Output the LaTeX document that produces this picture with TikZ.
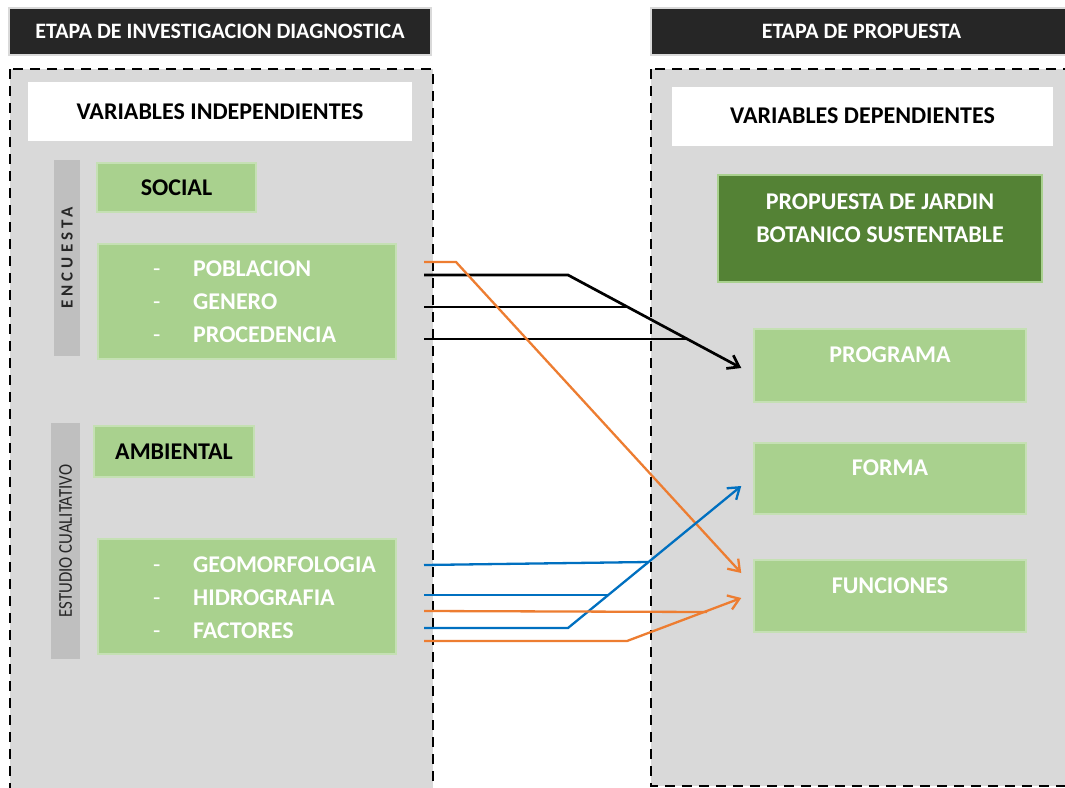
\documentclass[tikz,border=0pt]{standalone}
\usepackage{fontspec}
\setmainfont{Carlito}
\newfontfamily\narrowfont[FakeStretch=0.86]{Carlito}
\usetikzlibrary{arrows.meta,positioning}

\definecolor{hdrdark}{HTML}{262626}
\definecolor{panelgray}{HTML}{D9D9D9}
\definecolor{bargray}{HTML}{BFBFBF}
\definecolor{lightgreen}{HTML}{A9D18E}
\definecolor{greenrim}{HTML}{C5E0B4}
\definecolor{darkgreen}{HTML}{548235}
\definecolor{linkorange}{HTML}{ED7D31}
\definecolor{linkblue}{HTML}{0070C0}

\begin{document}
\begin{tikzpicture}[x=1pt, y=-1pt,
			every node/.style={inner sep=0pt, font=\bfseries\fontsize{24}{28}\selectfont},
			header/.style={draw=panelgray, line width=2pt, fill=hdrdark, text=white,
				minimum width=422pt, minimum height=47pt, font=\bfseries\fontsize{22}{26}\selectfont},
			panel/.style={draw=black, fill=panelgray, line width=2.4pt, dash pattern=on 10pt off 7pt},
			titlebox/.style={fill=white, minimum height=59pt},
			sidebar/.style={fill=bargray, rotate=90, text=hdrdark},
			greenbox/.style={draw=greenrim, line width=1.5pt, fill=lightgreen},
			boxtext/.style={text=white, font=\bfseries\fontsize{24}{33}\selectfont},
			link/.style={line width=2.3pt},
			linkarrow/.style={link, -{Straight Barb[angle=70:13pt]}}]
			
			\clip (0,0) rectangle (1065,787);
			\fill[white] (0,0) rectangle (1065,787);
			
			% Stage headers and dashed panels
			\node[header] (etapaDiag) at (220,31.5) {ETAPA DE INVESTIGACION DIAGNOSTICA};
			\node[header] (etapaProp) at (861.5,31.5) {ETAPA DE PROPUESTA};
			\draw[panel] (10,69) rectangle (433,800);
			\draw[panel] (651,69) rectangle (1080,786);
			
			% Define the nodes for the left panel
			\node[titlebox, minimum width=384pt] (varInd) at (220,111.5) {VARIABLES INDEPENDIENTES};
			\node[sidebar, minimum width=196pt, minimum height=26pt,
				font=\bfseries\fontsize{17}{19}\selectfont\addfontfeatures{LetterSpace=24}] (encuesta) at (67,258) {ENCUESTA};
			\node[greenbox, minimum width=159pt, minimum height=49pt] (social) at (176.5,187.5) {SOCIAL};
			\node[greenbox, minimum width=298pt, minimum height=115pt] (socialVars) at (247,301.5) {};
			\node[boxtext, align=left, anchor=west] (socialList) at (153,302)
				{\makebox[40pt][l]{\mdseries-}POBLACION\\\makebox[40pt][l]{\mdseries-}GENERO\\\makebox[40pt][l]{\mdseries-}PROCEDENCIA};
			
			\node[sidebar, minimum width=236pt, minimum height=29pt,
				font=\narrowfont\fontsize{19.5}{21}\selectfont] (estudio) at (65.5,541) {ESTUDIO CUALITATIVO};
			\node[greenbox, minimum width=160pt, minimum height=51pt] (ambiental) at (174,451.5) {AMBIENTAL};
			\node[greenbox, minimum width=298pt, minimum height=115pt] (ambVars) at (247,596.5) {};
			\node[boxtext, align=left, anchor=west] (ambList) at (153,598)
				{\makebox[40pt][l]{\mdseries-}GEOMORFOLOGIA\\\makebox[40pt][l]{\mdseries-}HIDROGRAFIA\\\makebox[40pt][l]{\mdseries-}FACTORES};
			
			% Define the nodes for the right panel
			\node[titlebox, minimum width=381pt] (varDep) at (862.5,116) {VARIABLES DEPENDIENTES};
			\node[fill=darkgreen, draw=lightgreen, line width=1.5pt, minimum width=324pt, minimum height=107pt] (jardin) at (880,228.5) {};
			\node[boxtext, align=center] (jardinTxt) at (880,218.5) {PROPUESTA DE JARDIN\\BOTANICO SUSTENTABLE};
			\node[greenbox, minimum width=272pt, minimum height=73pt] (programa) at (890,365.5) {};
			\node[boxtext] (programaTxt) at (890,355) {PROGRAMA};
			\node[greenbox, minimum width=272pt, minimum height=71pt] (forma) at (890,478.5) {};
			\node[boxtext] (formaTxt) at (890,468) {FORMA};
			\node[greenbox, minimum width=272pt, minimum height=72pt] (funciones) at (890,596) {};
			\node[boxtext] (funcionesTxt) at (890,586) {FUNCIONES};
			
			% Line starts, bends and joins
			\coordinate (pobA) at (424,262);
			\coordinate (pobB) at (424,275);
			\coordinate (genA) at (424,307);
			\coordinate (proA) at (424,339);
			\coordinate (geoA) at (424,565);
			\coordinate (hidA) at (424,595);
			\coordinate (hidB) at (424,611);
			\coordinate (facA) at (424,628);
			\coordinate (facB) at (424,641);
			\coordinate (kOrange) at (456,262);
			\coordinate (kBlack) at (568,275);
			\coordinate (jGen) at (628,307);
			\coordinate (jPro) at (688,339);
			\coordinate (kBlue) at (568,628);
			\coordinate (jGeo) at (648,562);
			\coordinate (jHid) at (608,595);
			\coordinate (kFac) at (627,641);
			\coordinate (jHidB) at (707,612);
			
			% Draw the links
			\draw[linkarrow, line width=2.7pt] (pobB) -- (kBlack) -- ([xshift=-12pt,yshift=-2.5pt]programa.west);
			\draw[link, line width=2.7pt] (genA) -- (jGen);
			\draw[link, line width=2.7pt] (proA) -- (jPro);
			\draw[linkarrow, linkorange] (pobA) -- (kOrange) -- ([xshift=-12pt,yshift=23pt]funciones.west);
			\draw[linkarrow, linkblue] (facA) -- (kBlue) -- ([xshift=-12pt,yshift=-7.5pt]forma.west);
			\draw[link, linkblue] (geoA) -- (jGeo);
			\draw[link, linkblue] (hidA) -- (jHid);
			\draw[linkarrow, linkorange] (facB) -- (kFac) -- ([xshift=-12pt,yshift=-2pt]funciones.west);
			\draw[link, linkorange] (hidB) -- (jHidB);
		\end{tikzpicture}
\end{document}
